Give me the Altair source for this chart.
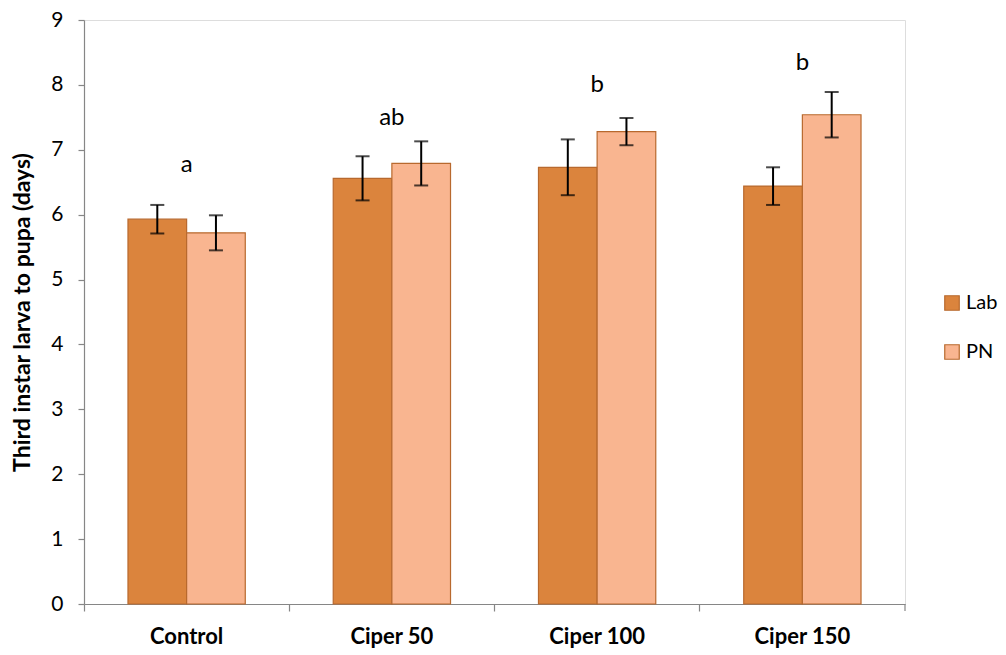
import altair as alt
import pandas as pd

# Development time from third instar larva to pupa, two populations
groups = ["Control", "Ciper 50", "Ciper 100", "Ciper 150"]
series = ["Lab", "PN"]
lab_mean = [5.93, 6.56, 6.73, 6.44]
lab_err = [0.22, 0.34, 0.43, 0.29]
pn_mean = [5.72, 6.79, 7.28, 7.54]
pn_err = [0.27, 0.34, 0.21, 0.35]
letters = ["a", "ab", "b", "b"]
letter_y = [6.77, 7.49, 8.0, 8.33]

rows = []
for i, g in enumerate(groups):
    rows.append({"group": g, "pop": "Lab", "mean": lab_mean[i],
                 "lo": lab_mean[i] - lab_err[i], "hi": lab_mean[i] + lab_err[i]})
    rows.append({"group": g, "pop": "PN", "mean": pn_mean[i],
                 "lo": pn_mean[i] - pn_err[i], "hi": pn_mean[i] + pn_err[i]})
df = pd.DataFrame(rows)
df_letters = pd.DataFrame({"group": groups, "letter": letters, "y": letter_y})

FONT = "Lato"
W, H = 821, 584

x_enc = alt.X("group:N", sort=groups, title=None,
              scale=alt.Scale(paddingInner=0, paddingOuter=0),
              axis=alt.Axis(labelFont=FONT, labelFontSize=22, labelFontWeight="bold",
                            labelColor="#000000", labelAngle=0, labelPadding=15,
                            domainColor="#868686", tickColor="#868686",
                            tickSize=7, bandPosition=0, tickWidth=1.2, domainWidth=1.2))
xoff = alt.XOffset("pop:N", sort=series,
                   scale=alt.Scale(paddingInner=0, paddingOuter=0.75))
y_scale = alt.Scale(domain=[0, 9], nice=False)

bars = alt.Chart(df).mark_bar(stroke="#B8692E", strokeWidth=1.2).encode(
    x=x_enc,
    xOffset=xoff,
    y=alt.Y("mean:Q", scale=y_scale, title="Third instar larva to pupa (days)",
            axis=alt.Axis(values=list(range(10)), format="d", grid=False, labelFont=FONT,
                          labelFontSize=21, labelColor="#000000", labelPadding=15,
                          titleFont=FONT, titleFontSize=23, titleFontWeight="bold",
                          titleColor="#000000", titlePadding=16,
                          domainColor="#868686", tickColor="#868686", tickSize=6,
                          tickWidth=1.2, domainWidth=1.2)),
    color=alt.Color("pop:N", sort=series, title=None,
                    scale=alt.Scale(domain=series, range=["#DB843D", "#F9B590"]),
                    legend=alt.Legend(orient="none", legendX=858, legendY=273,
                                      symbolType="square", symbolSize=210,
                                      symbolStrokeColor="#B8692E", symbolStrokeWidth=1.2,
                                      labelFont=FONT, labelFontSize=20,
                                      labelColor="#000000", rowPadding=29,
                                      labelOffset=4)),
)

err = alt.Chart(df).mark_rule(color="#000000", strokeWidth=2).encode(
    x=alt.X("group:N", sort=groups), xOffset=xoff,
    y=alt.Y("lo:Q", scale=y_scale), y2="hi:Q",
)
cap_lo = alt.Chart(df).mark_tick(color="#000000", thickness=2, size=14,
                                 orient="horizontal").encode(
    x=alt.X("group:N", sort=groups), xOffset=xoff,
    y=alt.Y("lo:Q", scale=y_scale),
)
cap_hi = alt.Chart(df).mark_tick(color="#000000", thickness=2, size=14,
                                 orient="horizontal").encode(
    x=alt.X("group:N", sort=groups), xOffset=xoff,
    y=alt.Y("hi:Q", scale=y_scale),
)

labels = alt.Chart(df_letters).mark_text(font=FONT, fontSize=24, color="#000000").encode(
    x=alt.X("group:N", sort=groups),
    y=alt.Y("y:Q", scale=y_scale),
    text="letter:N",
)

# closing tick at the right end of the category axis
end_tick = alt.Chart(df_letters.head(1)).mark_rule(color="#868686", strokeWidth=1.2).encode(
    x=alt.value(W), y=alt.value(H), y2=alt.value(H + 7),
)

chart = alt.layer(bars, err, cap_lo, cap_hi, labels, end_tick).properties(
    width=W, height=H,
    autosize=alt.AutoSizeParams(type="none"),
    padding={"left": 84, "top": 20, "right": 101, "bottom": 51},
).configure_view(stroke=None).configure(background="#FFFFFF")

chart.save("out.html", embed_options={"renderer": "svg", "actions": False})
